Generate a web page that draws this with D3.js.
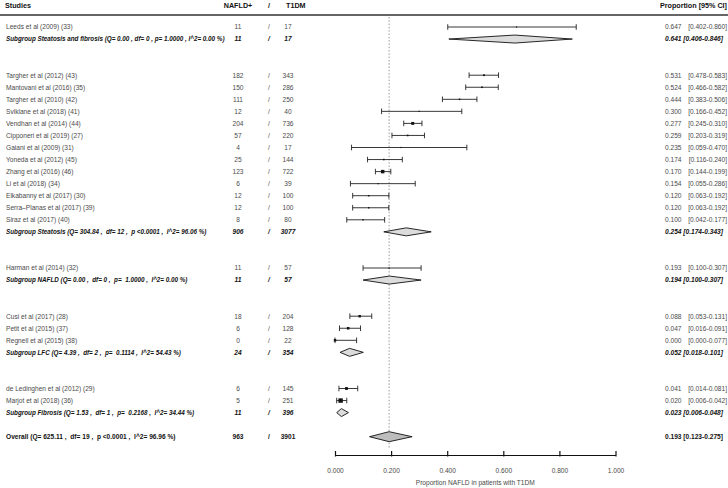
<!DOCTYPE html>
<html><head><meta charset="utf-8">
<script src="https://cdn.jsdelivr.net/npm/d3@7"></script>
<style>
html,body{margin:0;padding:0;background:#fff;}
svg text{font-family:"Liberation Sans",Arial,sans-serif;white-space:pre;}
</style></head>
<body><svg id="c" width="728" height="488"></svg>
<script>
// ---- data ----
const labels = [
 "Leeds et al (2009) (33)",
 "Subgroup Steatosis and fibrosis (Q= 0.00 , df= 0 , p= 1.0000 , I^2= 0.00 %)",
 "Targher et al (2012) (43)",
 "Mantovani et al (2016) (35)",
 "Targher et al (2010) (42)",
 "Sviklane et al (2018) (41)",
 "Vendhan et al (2014) (44)",
 "Cipponeri et al (2019) (27)",
 "Gaiani et al (2009) (31)",
 "Yoneda et al (2012) (45)",
 "Zhang et al (2016) (46)",
 "Li et al (2018) (34)",
 "Elkabanny et al (2017) (30)",
 "Serra–Planas et al (2017) (39)",
 "Siraz et al (2017) (40)",
 "Subgroup Steatosis (Q= 304.84 ,  df= 12 ,  p <0.0001 ,  I^2= 96.06 %)",
 "Harman et al (2014) (32)",
 "Subgroup NAFLD (Q= 0.00 ,  df= 0 ,  p=  1.0000 ,  I^2= 0.00 %)",
 "Cusi et al (2017) (28)",
 "Petit et al (2015) (37)",
 "Regnell et al (2015) (38)",
 "Subgroup LFC (Q= 4.39 ,  df= 2 ,  p=  0.1114 ,  I^2= 54.43 %)",
 "de Ledinghen et al (2012) (29)",
 "Marjot et al (2018) (36)",
 "Subgroup Fibrosis (Q= 1.53 ,  df= 1 ,  p=  0.2168 ,  I^2= 34.44 %)",
 "Overall (Q= 625.11 ,  df= 19 ,  p <0.0001 ,  I^2= 96.96 %)"
];
const kinds = ["study","subgroup","study","study","study","study","study","study","study","study","study","study","study","study","study","subgroup","study","subgroup","study","study","study","subgroup","study","study","subgroup","overall"];
const nafld = [11,11,182,150,111,12,204,57,4,25,123,6,12,12,8,906,11,11,18,6,0,24,6,5,11,963];
const t1dm  = [17,17,343,286,250,40,736,220,17,144,722,39,100,100,80,3077,57,57,204,128,22,354,145,251,396,3901];
const est   = [0.647,0.641,0.531,0.524,0.444,0.300,0.277,0.259,0.235,0.174,0.170,0.154,0.120,0.120,0.100,0.254,0.193,0.194,0.088,0.047,0.000,0.052,0.041,0.020,0.023,0.193];
const lower = [0.402,0.406,0.478,0.466,0.383,0.166,0.245,0.203,0.059,0.116,0.144,0.055,0.063,0.063,0.042,0.174,0.100,0.100,0.053,0.016,0.000,0.018,0.014,0.006,0.006,0.123];
const upper = [0.860,0.846,0.583,0.582,0.506,0.452,0.310,0.319,0.470,0.240,0.199,0.286,0.192,0.192,0.177,0.343,0.307,0.307,0.131,0.091,0.077,0.101,0.081,0.042,0.048,0.275];
const axisTicks = [0,0.2,0.4,0.6,0.8,1.0];
const xTitle = "Proportion NAFLD in patients with T1DM";

// ---- layout ----
const svg = d3.select("#c");
const f3 = d3.format(".3f");
// slots: two blank rows after each subgroup, one blank row before overall
const slots = [];
kinds.forEach((k,i)=>{
  if (i===0) slots.push(0);
  else if (k==="overall") slots.push(slots[i-1]+2);
  else slots.push(slots[i-1] + (kinds[i-1]==="subgroup" ? 3 : 1));
});
const rows = labels.map((l,i)=>({label:l,kind:kinds[i],n:nafld[i],N:t1dm[i],e:est[i],lo:lower[i],hi:upper[i],slot:slots[i]}));
const x = d3.scaleLinear().domain([0,1]).range([335,615.5]);
const y = d3.scaleLinear().domain([0,34]).range([27,436.7]);
const axisY = 455;
const fs = 6.6;

// header
const hdr = svg.append("g").attr("font-weight","bold").attr("font-size",7.2).attr("fill","#111");
hdr.append("text").attr("x",5).attr("y",8).text("Studies");
hdr.append("text").attr("x",238).attr("y",8).attr("text-anchor","middle").text("NAFLD+");
hdr.append("text").attr("x",269).attr("y",8).attr("text-anchor","middle").text("/");
hdr.append("text").attr("x",286).attr("y",8).text("T1DM");
hdr.append("text").attr("x",727).attr("y",8).attr("text-anchor","end").text("Proportion [95% CI]");
svg.append("line").attr("x1",0).attr("x2",728).attr("y1",15).attr("y2",15).attr("stroke","#333").attr("stroke-width",1.3);

// reference dotted line at overall estimate
const overall = rows.find(r=>r.kind==="overall");
svg.append("line").attr("x1",x(overall.e)).attr("x2",x(overall.e)).attr("y1",17).attr("y2",axisY-6)
  .attr("stroke","#999").attr("stroke-width",1).attr("stroke-dasharray","1.5,1.8");

// text rows
const g = svg.append("g");
rows.forEach(r=>{
  const yy = y(r.slot) + 2.3;
  const isSub = r.kind==="subgroup", isAll = r.kind==="overall";
  const t = g.append("g").attr("font-size",fs)
    .attr("fill", (isSub||isAll) ? "#111" : "#4a4a4a")
    .attr("font-weight", (isSub||isAll) ? "bold" : "normal")
    .attr("font-style", isSub ? "italic" : "normal");
  t.append("text").attr("x",6).attr("y",yy).attr("font-size", isSub ? 6.3 : fs).text(r.label);
  t.append("text").attr("x",238).attr("y",yy).attr("text-anchor","middle").text(r.n);
  t.append("text").attr("x",269).attr("y",yy).attr("text-anchor","middle").text("/");
  t.append("text").attr("x",288).attr("y",yy).attr("text-anchor","middle").text(r.N);
  if (r.kind==="study") {
    t.append("text").attr("x",665).attr("y",yy).text(f3(r.e));
    t.append("text").attr("x",727).attr("y",yy).attr("text-anchor","end").text("["+f3(r.lo)+"-"+f3(r.hi)+"]");
  } else {
    t.append("text").attr("x",665).attr("y",yy).text(f3(r.e)+" ["+f3(r.lo)+"-"+f3(r.hi)+"]");
  }
});

// marks
const m = svg.append("g");
rows.forEach(r=>{
  const yy = y(r.slot);
  if (r.kind==="study") {
    m.append("line").attr("x1",x(r.lo)).attr("x2",x(r.hi)).attr("y1",yy).attr("y2",yy).attr("stroke","#222").attr("stroke-width",0.9);
    [r.lo,r.hi].forEach(v=>m.append("line").attr("x1",x(v)).attr("x2",x(v)).attr("y1",yy-2.8).attr("y2",yy+2.8).attr("stroke","#222").attr("stroke-width",0.9));
    const s = Math.max(1.2, Math.min(4.4, 0.19/(r.hi-r.lo)));
    m.append("rect").attr("x",x(r.e)-s/2).attr("y",yy-s/2).attr("width",s).attr("height",s).attr("fill","#111");
  } else {
    const h = r.kind==="overall" ? 5 : 4;
    const pts = [[x(r.lo),yy],[x(r.e),yy-h],[x(r.hi),yy],[x(r.e),yy+h]];
    m.append("path").attr("d","M"+pts.map(p=>p.join(",")).join("L")+"Z")
      .attr("fill", r.kind==="overall" ? "#bdbdbd" : "#dcdcdc").attr("stroke","#111").attr("stroke-width",0.9);
  }
});

// axis
const ax = svg.append("g").attr("transform","translate(0,"+axisY+")")
  .call(d3.axisBottom(x).tickValues(axisTicks).tickFormat(f3).tickSizeInner(-4).tickSizeOuter(0).tickPadding(13));
ax.select(".domain").attr("stroke","#111").attr("stroke-width",1.2);
ax.selectAll(".tick line").attr("stroke","#111").attr("stroke-width",1.2).attr("y1",1.5);
ax.selectAll(".tick text").attr("font-size",fs).attr("fill","#4a4a4a").attr("font-family","Liberation Sans, Arial, sans-serif");
svg.append("text").attr("x",x(0.5)).attr("y",485).attr("text-anchor","middle").attr("font-size",fs).attr("fill","#4a4a4a").text(xTitle);
</script></body></html>
